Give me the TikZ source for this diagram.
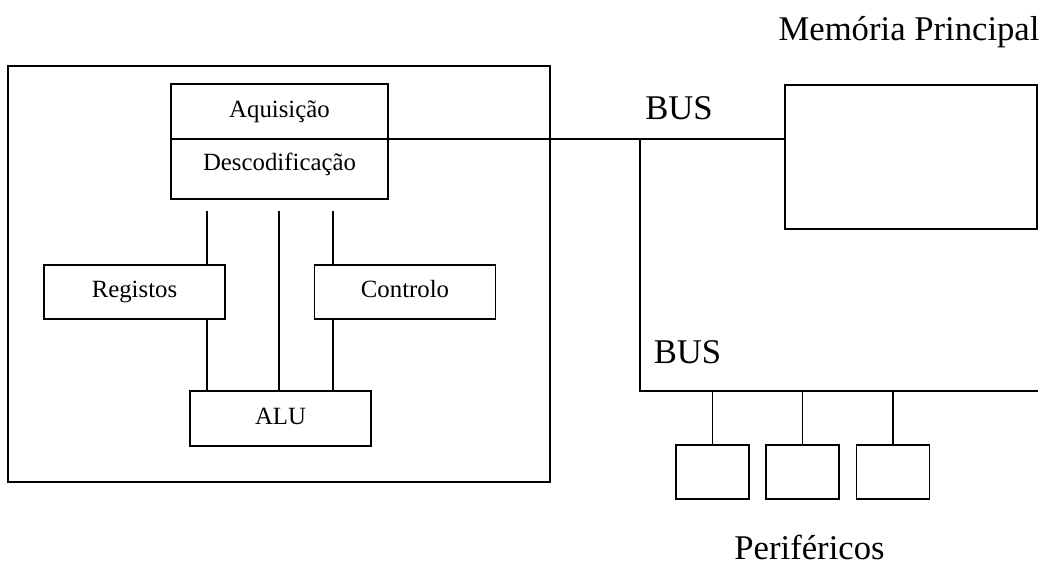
\documentclass[tikz,border=0pt]{standalone}
\usepackage{fontspec}
\setmainfont{Liberation Serif}
\usetikzlibrary{positioning}

\begin{document}
\begin{tikzpicture}[
    x=0.75pt, y=-0.75pt,
    line width=1pt,
    frame/.style={draw, inner sep=0pt, outer sep=0pt},
    box/.style={frame, text height=12.5pt, text depth=4pt,
        font=\fontsize{18.6}{22}\selectfont},
    biglabel/.style={anchor=base, inner sep=0pt, font=\fontsize{26}{30}\selectfont}
  ]
  \useasboundingbox (0,0) rectangle (1044,566);
  % processor
  \node[frame, minimum width=406.5pt, minimum height=312pt] (cpu) at (279,274) {};
  \node[box, minimum width=162.75pt, minimum height=41.25pt] (aq) at (279.5,111.5) {Aquisição};
  \node[box, minimum width=162.75pt, minimum height=45pt, text depth=9.5pt, below=0pt of aq] (desc) {Descodificação};
  \node[box, minimum width=135.75pt, minimum height=40.5pt] (reg) at (134.5,292) {Registos};
  \node[box, minimum width=135.75pt, minimum height=40.5pt] (ctrl) at (405,292) {Controlo};
  \node[box, minimum width=135.75pt, minimum height=41.25pt] (alu) at (280.5,418.5) {ALU};
  \coordinate (l1) at (207,211);
  \coordinate (l2) at (279,211);
  \coordinate (l3) at (333,211);
  \draw (l1) -- (l1 |- reg.north);
  \draw (l1 |- reg.south) -- (l1 |- alu.north);
  \draw (l2) -- (l2 |- alu.north);
  \draw (l3) -- (l3 |- ctrl.north);
  \draw (l3 |- ctrl.south) -- (l3 |- alu.north);
  % memory and buses
  \node[frame, minimum width=189pt, minimum height=108pt] (mem) at (911,157) {};
  \node[biglabel] (memlabel) at (909,41) {Memória Principal};
  \draw (aq.south east) -- (aq.south east -| mem.west);
  \node[biglabel] (bus1) at (679,120) {BUS};
  \coordinate (tap) at (640,139);
  \coordinate (busend) at (1038,391);
  \draw (tap) |- (busend);
  \node[biglabel] (bus2) at (687.5,363) {BUS};
  % peripherals
  \foreach \i/\px in {1/712.5,2/802.5,3/893}{
    \node[frame, minimum width=54.75pt, minimum height=40.5pt] (per\i) at (\px,472) {};
    \draw (per\i.north) -- (per\i.north |- busend);
  }
  \node[biglabel] (perlabel) at (809.5,559) {Periféricos};
\end{tikzpicture}
\end{document}
